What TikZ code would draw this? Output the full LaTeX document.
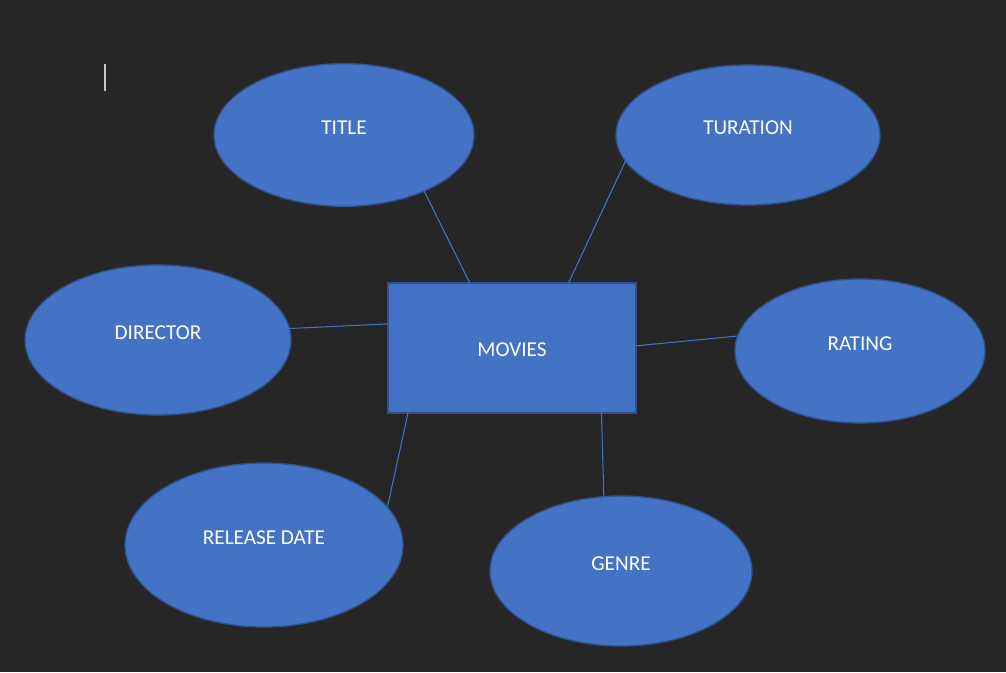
\documentclass[tikz,border=0pt]{standalone}
\usepackage{fontspec}
\setmainfont{Carlito}
\usetikzlibrary{shapes.geometric}
\definecolor{bg}{HTML}{262626}
\definecolor{fillblue}{HTML}{4472C4}
\definecolor{edgeblue}{HTML}{2F528F}
\definecolor{cursorgray}{HTML}{C8C8C8}
\tikzset{
  attr/.style={ellipse, draw=edgeblue, fill=fillblue, line width=1pt, inner sep=0pt, outer sep=0pt},
  entity/.style={rectangle, draw=edgeblue, fill=fillblue, line width=1pt, inner sep=0pt, outer sep=0pt,
    minimum width=186pt, minimum height=97.5pt},
  lbl/.style={text=white, font=\fontsize{15.9}{19}\selectfont, yshift=5.3pt},
  link/.style={draw=fillblue, line width=0.8pt}
}
\begin{document}
\begin{tikzpicture}[x=0.75pt,y=-0.75pt]
\fill[bg] (0,0) rectangle (1006,672);
\useasboundingbox (0,0) rectangle (1006,672);
\draw[cursorgray, line width=1.1pt] (105,64) -- (105,91);

\node[entity, label={[lbl, yshift=-6.8pt]center:MOVIES}] (movies) at (512,348) {};
\node[attr, minimum width=195pt, minimum height=107pt, label={[lbl]center:TITLE}] (title) at (344,135) {};
\node[attr, minimum width=198pt, minimum height=105pt, label={[lbl]center:TURATION}] (turation) at (748,135) {};
\node[attr, minimum width=199.5pt, minimum height=112.5pt, label={[lbl]center:DIRECTOR}] (director) at (158,340) {};
\node[attr, minimum width=187.5pt, minimum height=108pt, label={[lbl]center:RATING}] (rating) at (860,351) {};
\node[attr, minimum width=208.5pt, minimum height=123pt, label={[lbl]center:RELEASE DATE}] (release) at (264,545) {};
\node[attr, minimum width=196.5pt, minimum height=112.5pt, label={[lbl]center:GENRE}] (genre) at (621,571) {};

\draw[link] (title.-35.7) -- (movies.123.5);
\draw[link] (turation.-168.4) -- (movies.49.3);
\draw[link] (director.5.2) -- (movies.169.5);
\draw[link] (rating.173) -- (movies.1.4);
\draw[link] (release.17.9) -- (movies.-148);
\draw[link] (genre.103.7) -- (movies.-36.4);
\end{tikzpicture}
\end{document}
